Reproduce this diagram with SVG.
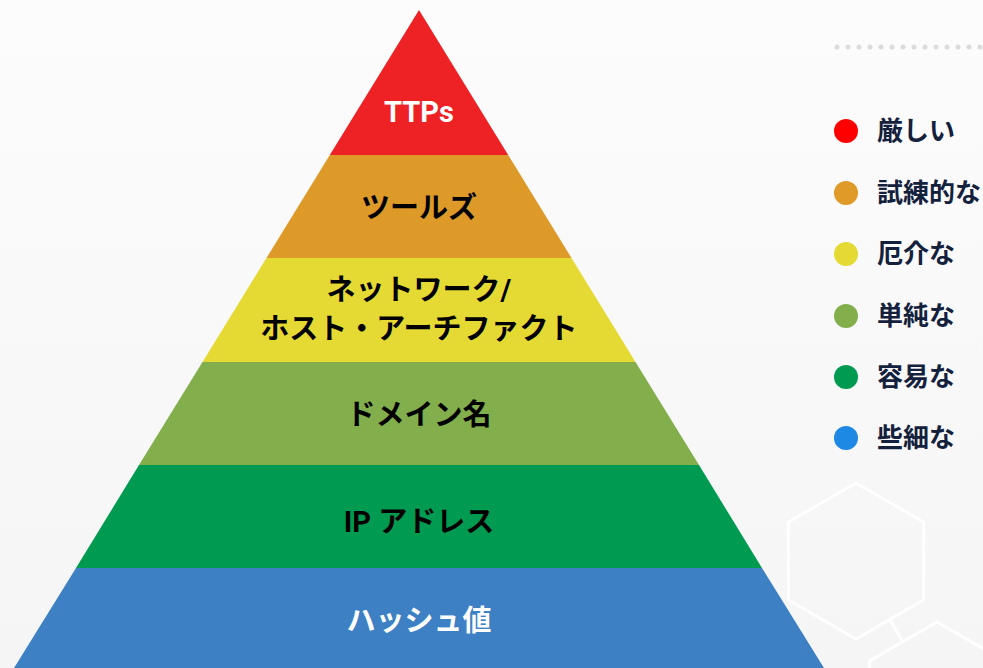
<svg xmlns="http://www.w3.org/2000/svg" width="983" height="668" viewBox="0 0 983 668">
  <defs>
    <linearGradient id="bg" x1="0" y1="0" x2="0" y2="1">
      <stop offset="0" stop-color="#fcfcfc"/>
      <stop offset="1" stop-color="#f5f5f5"/>
    </linearGradient>
  </defs>
  <style>
    .lbl { font-family: Roboto, "Noto Sans CJK JP", sans-serif; font-weight: 700; font-size: 29px; text-anchor: middle; fill: #000; }
    .wht { fill: #fff; }
    .leg { font-family: "Noto Sans CJK JP", sans-serif; font-weight: 700; font-size: 26px; fill: #14213d; }
    .hex { fill: none; stroke: #ffffff; stroke-width: 3; stroke-linejoin: round; }
  </style>
  <rect width="983" height="668" fill="url(#bg)"/>

  <g id="decor">
    <line x1="837" y1="47" x2="983" y2="47" stroke="#dcdcdc" stroke-width="5" stroke-linecap="round" stroke-dasharray="0 11"/>
    <polygon class="hex" points="856,483 923.5,522 923.5,600 856,639 788.5,600 788.5,522"/>
    <line x1="890" y1="620" x2="903" y2="642" stroke="#ffffff" stroke-width="3"/>
    <polygon class="hex" points="937,622 1004.5,661 1004.5,739 937,778 869.5,739 869.5,661"/>
  </g>

  <g id="layer-ttps">
    <polygon points="419,10 508.2,155 329.8,155" fill="#ee2124"/>
    <text class="lbl wht" x="419" y="122" font-size="31">TTPs</text>
  </g>
  <g id="layer-tools">
    <polygon points="329.8,155 508.2,155 571.5,258 266.5,258" fill="#dd9a28"/>
    <text class="lbl" x="419" y="218">ツールズ</text>
  </g>
  <g id="layer-artifacts">
    <polygon points="266.5,258 571.5,258 635.5,362 202.5,362" fill="#e5da33"/>
    <text class="lbl" x="419" y="300">ネットワーク/</text>
    <text class="lbl" x="419" y="339" font-size="28.5">ホスト・アーチファクト</text>
  </g>
  <g id="layer-domain">
    <polygon points="202.5,362 635.5,362 699,465 139,465" fill="#82ae4c"/>
    <text class="lbl" x="419" y="425">ドメイン名</text>
  </g>
  <g id="layer-ip">
    <polygon points="139,465 699,465 762,568 76,568" fill="#009a50"/>
    <text class="lbl" x="419" y="532">IP アドレス</text>
  </g>
  <g id="layer-hash">
    <polygon points="76,568 762,568 824,668 14,668" fill="#3d80c4"/>
    <text class="lbl wht" x="419" y="631">ハッシュ値</text>
  </g>

  <g id="connectors"></g>

  <g id="legend-hard">
    <circle cx="846" cy="131" r="12" fill="#ff0000"/>
    <text class="leg" x="877" y="140">厳しい</text>
  </g>
  <g id="legend-challenging">
    <circle cx="846" cy="193" r="12" fill="#df9a28"/>
    <text class="leg" x="877" y="202">試練的な</text>
  </g>
  <g id="legend-annoying">
    <circle cx="846" cy="254" r="12" fill="#e5da33"/>
    <text class="leg" x="877" y="263">厄介な</text>
  </g>
  <g id="legend-simple">
    <circle cx="846" cy="316" r="12" fill="#82ae4c"/>
    <text class="leg" x="877" y="325">単純な</text>
  </g>
  <g id="legend-easy">
    <circle cx="846" cy="377" r="12" fill="#009a50"/>
    <text class="leg" x="877" y="386">容易な</text>
  </g>
  <g id="legend-trivial">
    <circle cx="846" cy="438" r="12" fill="#1e88e5"/>
    <text class="leg" x="877" y="447">些細な</text>
  </g>
</svg>
